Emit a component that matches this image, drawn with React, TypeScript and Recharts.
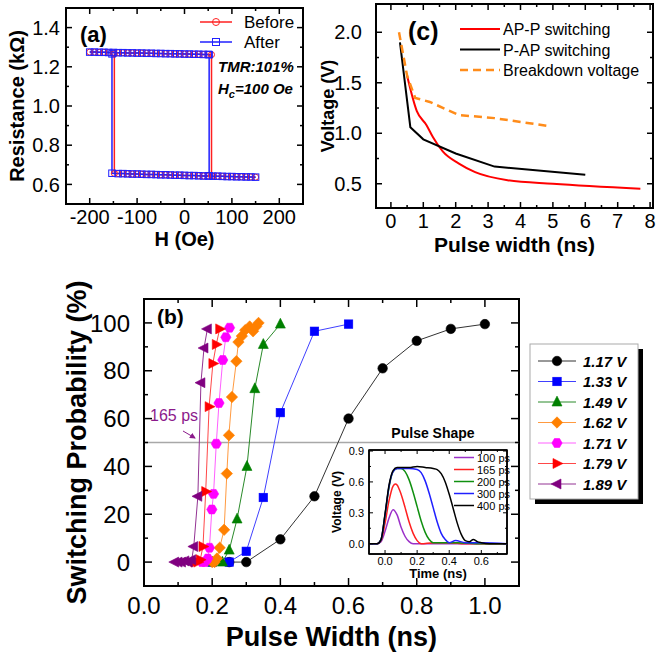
import React from "react";
import { LineChart, Line, XAxis, YAxis, ReferenceLine, ReferenceArea } from "recharts";

const FONT = "'Liberation Sans', Arial, Helvetica, sans-serif";

// ---------- (a) R-H loop ----------
const TOP_H = [-200, -190, -180, -170, -160, -150, -140, -130, -120, -110, -100, -90, -80, -70, -60, -50, -40, -30, -20, -10, 0, 10, 20, 30, 40, 50];
const TOP_R = [1.275, 1.275, 1.274, 1.274, 1.273, 1.273, 1.272, 1.272, 1.271, 1.271, 1.27, 1.27, 1.269, 1.269, 1.268, 1.268, 1.267, 1.267, 1.266, 1.266, 1.265, 1.265, 1.264, 1.264, 1.263, 1.263];
const LOW_LEFT_H = [-140, -130, -120, -110, -100, -90, -80, -70, -60, -50, -40, -30, -20, -10, 0, 10, 20, 30, 40, 50];
const LOW_LEFT_R = [0.655, 0.655, 0.654, 0.653, 0.653, 0.652, 0.651, 0.651, 0.65, 0.649, 0.649, 0.648, 0.647, 0.647, 0.646, 0.645, 0.645, 0.644, 0.643, 0.643];
const LOW_RIGHT_H = [60, 70, 80, 90, 100, 110, 120, 130, 140, 150];
const LOW_RIGHT_R = [0.642, 0.642, 0.641, 0.64, 0.64, 0.639, 0.639, 0.638, 0.638, 0.637];
// switching field, R high, R low
const BEFORE_UP = [57, 1.262, 0.643];
const BEFORE_DOWN = [-148, 1.266, 0.656];
const AFTER_UP = [52, 1.262, 0.644];
const AFTER_DOWN = [-153, 1.266, 0.657];
const A_NAMES = ["Before", "After"];
const A_COLORS = ["#ff2020", "#2020ff"];
const A_SHAPES = ["circle", "square"];
const A_X_TICKS = [-200, -150, -100, -50, 0, 50, 100, 150, 200];
const A_X_MAJORS = [-200, -100, 0, 100, 200];
const A_Y_TICKS = [0.6, 0.7, 0.8, 0.9, 1.0, 1.1, 1.2, 1.3, 1.4];
const A_Y_MAJORS = [0.6, 0.8, 1.0, 1.2, 1.4];

// ---------- (c) switching voltage vs pulse width ----------
const C_NAMES = ["AP-P switching", "P-AP switching", "Breakdown voltage"];
const C_COLORS = ["#ff0000", "#000000", "#ff8c1a"];
const AP_W = [0.5, 0.8, 1.1, 1.3, 1.6, 2.1, 2.6, 3.6, 5.0, 7.7];
const AP_V = [1.57, 1.22, 1.08, 0.96, 0.82, 0.7, 0.615, 0.535, 0.5, 0.45];
const PAP_W = [0.28, 0.6, 1.0, 2.0, 3.2, 6.0];
const PAP_V = [1.9, 1.06, 0.94, 0.8, 0.67, 0.59];
const BD_W = [0.25, 0.5, 0.75, 1.2, 2.1, 3.2, 4.9];
const BD_V = [2.0, 1.57, 1.35, 1.31, 1.18, 1.15, 1.07];
const C_X_TICKS = [0, 0.5, 1, 1.5, 2, 2.5, 3, 3.5, 4, 4.5, 5, 5.5, 6, 6.5, 7, 7.5, 8];
const C_X_MAJORS = [0, 1, 2, 3, 4, 5, 6, 7, 8];
const C_Y_TICKS = [0.5, 0.75, 1.0, 1.25, 1.5, 1.75, 2.0];
const C_Y_MAJORS = [0.5, 1.0, 1.5, 2.0];

// ---------- (b) switching probability ----------
const B_NAMES = ["1.17 V", "1.33 V", "1.49 V", "1.62 V", "1.71 V", "1.79 V", "1.89 V"];
const B_COLORS = ["#000000", "#0000ff", "#008000", "#ff8000", "#ff00ff", "#ff0000", "#800080"];
const B_LINES = ["#333333", "#4040ff", "#2a8a2a", "#ff9a40", "#ff60ff", "#ff4848", "#933393"];
const B_SHAPES = ["circle", "square", "up", "diamond", "hex", "right", "left"];
const W_117 = [0.25, 0.3, 0.4, 0.5, 0.6, 0.7, 0.8, 0.9, 1.0];
const P_117 = [0, 0, 9.5, 27.5, 60, 81, 92.5, 97.5, 99.5];
const W_133 = [0.2, 0.25, 0.3, 0.35, 0.4, 0.5, 0.6];
const P_133 = [0, 0, 4.5, 27, 62.5, 96.5, 99.5];
const W_149 = [0.2, 0.23, 0.25, 0.273, 0.302, 0.325, 0.35, 0.4];
const P_149 = [0, 0, 5, 18, 40, 72.5, 91, 99.5];
const W_162 = [0.2, 0.207, 0.214, 0.222, 0.235, 0.243, 0.249, 0.258, 0.271, 0.277, 0.287, 0.297, 0.31, 0.32, 0.329, 0.336];
const P_162 = [0, 0, 1.5, 6, 13.5, 37, 53, 69, 84, 92, 94.5, 97, 98.5, 96.5, 98.5, 100];
const W_171 = [0.17, 0.179, 0.187, 0.192, 0.199, 0.204, 0.212, 0.22, 0.231, 0.24, 0.251];
const P_171 = [0, 0, 1.5, 6, 22, 28.5, 49.5, 66.5, 84.5, 94, 98];
const W_179 = [0.15, 0.158, 0.165, 0.173, 0.181, 0.191, 0.202, 0.212, 0.222];
const P_179 = [0, 0, 1, 6.5, 29.5, 65, 83, 91, 97.5];
const W_189 = [0.09, 0.1, 0.11, 0.12, 0.13, 0.14, 0.146, 0.158, 0.167, 0.176, 0.186];
const P_189 = [0, 0, 0, 0.5, 0, 1, 6.5, 27.5, 75, 89.5, 97.5];
const B_W = [W_117, W_133, W_149, W_162, W_171, W_179, W_189];
const B_P = [P_117, P_133, P_149, P_162, P_171, P_179, P_189];
const B_X_TICKS = [0, 0.1, 0.2, 0.3, 0.4, 0.5, 0.6, 0.7, 0.8, 0.9, 1.0];
const B_X_MAJORS = [0, 0.2, 0.4, 0.6, 0.8, 1.0];
const B_Y_TICKS = [0, 10, 20, 30, 40, 50, 60, 70, 80, 90, 100];
const B_Y_MAJORS = [0, 20, 40, 60, 80, 100];

// ---------- inset: pulse shape ----------
const PULSE_NAMES = ["100 ps", "165 ps", "200 ps", "300 ps", "400 ps"];
const PULSE_COLORS = ["#9b30c8", "#ff2020", "#109010", "#2020ff", "#000000"];
const T_100 = [-0.1, -0.05, -0.025, 0, 0.025, 0.05, 0.075, 0.1, 0.125, 0.15, 0.175, 0.25, 0.4, 0.55, 0.76];
const V_100 = [0, 0, 0.02, 0.12, 0.25, 0.33, 0.28, 0.16, 0.07, 0.02, 0, 0, 0, 0, 0];
const T_165 = [-0.1, -0.05, -0.025, 0, 0.025, 0.05, 0.065, 0.075, 0.1, 0.125, 0.15, 0.175, 0.2, 0.225, 0.3, 0.4, 0.5, 0.76];
const V_165 = [0, 0, 0.03, 0.2, 0.42, 0.56, 0.58, 0.57, 0.48, 0.35, 0.21, 0.1, 0.03, 0, 0.01, 0.01, 0, 0];
const T_200 = [-0.1, -0.05, -0.025, 0, 0.025, 0.05, 0.075, 0.1, 0.125, 0.15, 0.175, 0.2, 0.225, 0.25, 0.275, 0.3, 0.35, 0.45, 0.6, 0.76];
const V_200 = [0, 0, 0.04, 0.28, 0.55, 0.7, 0.73, 0.73, 0.7, 0.62, 0.5, 0.36, 0.22, 0.11, 0.04, 0.01, 0.01, 0.01, 0, 0];
const T_300 = [-0.1, -0.05, -0.025, 0, 0.025, 0.05, 0.075, 0.1, 0.15, 0.2, 0.225, 0.25, 0.275, 0.3, 0.325, 0.35, 0.375, 0.4, 0.44, 0.5, 0.6, 0.76];
const V_300 = [0, 0, 0.04, 0.28, 0.56, 0.7, 0.73, 0.73, 0.73, 0.72, 0.69, 0.61, 0.49, 0.35, 0.21, 0.1, 0.04, 0.01, 0.03, 0.01, 0.01, 0];
const T_400 = [-0.1, -0.05, -0.025, 0, 0.025, 0.05, 0.075, 0.1, 0.15, 0.2, 0.25, 0.3, 0.325, 0.35, 0.375, 0.4, 0.425, 0.45, 0.475, 0.5, 0.525, 0.55, 0.575, 0.6, 0.65, 0.76];
const V_400 = [0, 0, 0.04, 0.29, 0.57, 0.71, 0.74, 0.74, 0.74, 0.75, 0.74, 0.73, 0.72, 0.68, 0.6, 0.48, 0.34, 0.2, 0.09, 0.03, 0.02, 0.04, 0.02, 0.01, 0, 0];
const PULSE_T = [T_100, T_165, T_200, T_300, T_400];
const PULSE_V = [V_100, V_165, V_200, V_300, V_400];
const I_X_TICKS = [0, 0.1, 0.2, 0.3, 0.4, 0.5, 0.6, 0.7];
const I_X_MAJORS = [0, 0.2, 0.4, 0.6];
const I_Y_TICKS = [0, 0.15, 0.3, 0.45, 0.6, 0.75, 0.9];
const I_Y_MAJORS = [0, 0.3, 0.6, 0.9];

// ---------- helpers ----------
const zip = (xs: number[], ys: number[], xk: string, yk: string) =>
  xs.map((x, i) => ({ [xk]: x, [yk]: ys[i] }));

const loop = (up: number[], down: number[]) => [
  ...zip(TOP_H, TOP_R, "h", "r"),
  { h: up[0], r: up[1] },
  { h: up[0], r: up[2] },
  ...zip(LOW_RIGHT_H, LOW_RIGHT_R, "h", "r"),
  { h: 0, r: null },
  { h: down[0], r: down[1] },
  { h: down[0], r: down[2] },
  ...zip(LOW_LEFT_H, LOW_LEFT_R, "h", "r"),
];

function Marker({ shape, cx, cy, s, color, hollow }: any) {
  const st = { fill: hollow ? "none" : color, stroke: color, strokeWidth: hollow ? 1 : 0.6 };
  const h = s / 2;
  switch (shape) {
    case "circle":
      return <circle cx={cx} cy={cy} r={h} {...st} />;
    case "square":
      return <rect x={cx - h} y={cy - h} width={s} height={s} {...st} />;
    case "up":
      return <polygon points={`${cx},${cy - s * 0.62} ${cx + h * 1.05},${cy + s * 0.42} ${cx - h * 1.05},${cy + s * 0.42}`} {...st} />;
    case "diamond":
      return <polygon points={`${cx},${cy - h * 1.2} ${cx + h * 1.2},${cy} ${cx},${cy + h * 1.2} ${cx - h * 1.2},${cy}`} {...st} />;
    case "hex": {
      const pts = [0, 60, 120, 180, 240, 300]
        .map((a) => `${cx + h * 1.08 * Math.cos((a * Math.PI) / 180)},${cy + h * 1.08 * Math.sin((a * Math.PI) / 180)}`)
        .join(" ");
      return <polygon points={pts} {...st} />;
    }
    case "right":
      return <polygon points={`${cx + s * 0.62},${cy} ${cx - s * 0.42},${cy - h * 1.05} ${cx - s * 0.42},${cy + h * 1.05}`} {...st} />;
    case "left":
      return <polygon points={`${cx - s * 0.62},${cy} ${cx + s * 0.42},${cy - h * 1.05} ${cx + s * 0.42},${cy + h * 1.05}`} {...st} />;
    default:
      return null;
  }
}

const dotFn = (id: string, shape: string, color: string, s: number, hollow = false) => (d: any) => {
  if (!Number.isFinite(d.cx) || !Number.isFinite(d.cy) || d.value == null) return <g key={`${id}-${d.index}`} />;
  return <Marker key={`${id}-${d.index}`} shape={shape} cx={d.cx} cy={d.cy} s={s} color={color} hollow={hollow} />;
};

type Frame = {
  xKey: string;
  xDomain: number[];
  yDomain: number[];
  xTicks: number[];
  yTicks: number[];
  xMajors: number[];
  yMajors: number[];
  xFmt: (v: number) => string;
  yFmt: (v: number) => string;
  font: number;
  xGap: number;
  yGap: number;
  major: number;
  minor: number;
  sw: number;
  yWidth: number;
  plotW: number;
  plotH: number;
  xLabel: any;
  yLabel: any;
};

// inward ticks on both opposite sides of the frame, label only on majors
const tickFor = (side: "x" | "y", f: Frame) => (p: any) => {
  const majors = side === "x" ? f.xMajors : f.yMajors;
  const v = Number(p.payload?.value);
  const big = majors.some((m) => Math.abs(m - v) < 1e-9);
  const len = big ? f.major : f.minor;
  const x = Number(p.x);
  const y = Number(p.y);
  const w = Math.max(1, f.sw - 0.5);
  if (side === "x") {
    const top = y - f.plotH;
    return (
      <g key={`x-${p.index}`}>
        <line x1={x} x2={x} y1={y} y2={y - len} stroke="#000" strokeWidth={w} />
        <line x1={x} x2={x} y1={top} y2={top + len} stroke="#000" strokeWidth={w} />
        {big && (
          <text x={x} y={y + f.xGap} dy="0.72em" textAnchor="middle" fontSize={f.font} fill="#000">
            {f.xFmt(v)}
          </text>
        )}
      </g>
    );
  }
  const right = x + f.plotW;
  return (
    <g key={`y-${p.index}`}>
      <line x1={x} x2={x + len} y1={y} y2={y} stroke="#000" strokeWidth={w} />
      <line x1={right} x2={right - len} y1={y} y2={y} stroke="#000" strokeWidth={w} />
      {big && (
        <text x={x - f.yGap} y={y} dy="0.36em" textAnchor="end" fontSize={f.font} fill="#000">
          {f.yFmt(v)}
        </text>
      )}
    </g>
  );
};

const axisBase = (f: Frame) => ({
  type: "number" as const,
  allowDataOverflow: true,
  interval: 0,
  tickSize: 0,
  tickMargin: 0,
  tickLine: false,
  axisLine: { stroke: "#000", strokeWidth: f.sw },
});
const xProps = (f: Frame): any => ({
  ...axisBase(f), dataKey: f.xKey, domain: f.xDomain, ticks: f.xTicks, height: 1,
  tick: tickFor("x", f), label: f.xLabel,
});
const yProps = (f: Frame): any => ({
  ...axisBase(f), domain: f.yDomain, ticks: f.yTicks, width: f.yWidth,
  tick: tickFor("y", f), label: f.yLabel,
});
const boxProps = (f: Frame): any => ({
  x1: f.xDomain[0], x2: f.xDomain[1], y1: f.yDomain[0], y2: f.yDomain[1],
  fill: "none", stroke: "#000", strokeWidth: f.sw, ifOverflow: "visible",
});

const xTitle = (value: string, offset: number, fontSize: number) => ({
  value, position: "bottom", offset, fontSize, fontWeight: "bold", fill: "#000",
});
const yTitle = (value: string, offset: number, fontSize: number) => ({
  value, angle: -90, position: "insideLeft", offset, fontSize, fontWeight: "bold", fill: "#000",
  style: { textAnchor: "middle" },
});

const fix1 = (v: number) => v.toFixed(1);
const int = (v: number) => `${Math.round(v)}`;

// ---------- panels ----------
const FRAME_A: Frame = {
  xKey: "h", xDomain: [-250, 250], yDomain: [0.5, 1.5],
  xTicks: A_X_TICKS, yTicks: A_Y_TICKS, xMajors: A_X_MAJORS, yMajors: A_Y_MAJORS,
  xFmt: int, yFmt: fix1, font: 20, xGap: 6, yGap: 6, major: 6, minor: 3, sw: 2, yWidth: 66,
  plotW: 237, plotH: 196,
  xLabel: xTitle("H (Oe)", 27, 20), yLabel: yTitle("Resistance (kΩ)", 17, 20),
};

function PanelA() {
  const series = [loop(BEFORE_UP, BEFORE_DOWN), loop(AFTER_UP, AFTER_DOWN)];
  return (
    <LineChart width={320} height={260} margin={{ top: 8, right: 17, bottom: 55, left: 0 }}>
      <ReferenceArea {...boxProps(FRAME_A)} />
      <XAxis {...xProps(FRAME_A)} />
      <YAxis {...yProps(FRAME_A)} />
      <ReferenceLine y={1.5} stroke="#000" strokeWidth={2} ifOverflow="visible" />
      <ReferenceLine x={250} stroke="#000" strokeWidth={2} ifOverflow="visible" />
      {series.map((d, i) => (
        <Line key={A_NAMES[i]} data={d} dataKey="r" type="linear" stroke={A_COLORS[i]} strokeWidth={1.5}
          isAnimationActive={false} activeDot={false}
          dot={dotFn(A_NAMES[i], A_SHAPES[i], A_COLORS[i], i === 0 ? 6 : 6.5, true)} />
      ))}
    </LineChart>
  );
}

const FRAME_C: Frame = {
  xKey: "w", xDomain: [-0.46, 8.09], yDomain: [0.26, 2.28],
  xTicks: C_X_TICKS, yTicks: C_Y_TICKS, xMajors: C_X_MAJORS, yMajors: C_Y_MAJORS,
  xFmt: int, yFmt: fix1, font: 20, xGap: 6, yGap: 14, major: 6, minor: 3, sw: 2, yWidth: 66,
  plotW: 277, plotH: 204,
  xLabel: xTitle("Pulse width (ns)", 28, 21), yLabel: yTitle("Voltage (V)", 18, 18),
};

function PanelC() {
  const series = [zip(AP_W, AP_V, "w", "v"), zip(PAP_W, PAP_V, "w", "v"), zip(BD_W, BD_V, "w", "v")];
  return (
    <LineChart width={347} height={262} margin={{ top: 4, right: 4, bottom: 53, left: 0 }}>
      <ReferenceArea {...boxProps(FRAME_C)} />
      <XAxis {...xProps(FRAME_C)} />
      <YAxis {...yProps(FRAME_C)} />
      <ReferenceLine y={2.28} stroke="#000" strokeWidth={2} ifOverflow="visible" />
      <ReferenceLine x={8.09} stroke="#000" strokeWidth={2} ifOverflow="visible" />
      {series.map((d, i) => (
        <Line key={C_NAMES[i]} data={d} dataKey="v" type={i === 0 ? "monotone" : "linear"}
          stroke={C_COLORS[i]} strokeWidth={i === 2 ? 2.5 : 2} strokeDasharray={i === 2 ? "8 5" : undefined}
          dot={false} activeDot={false} isAnimationActive={false} />
      ))}
    </LineChart>
  );
}

const FRAME_B: Frame = {
  xKey: "w", xDomain: [0, 1.1], yDomain: [-10, 110],
  xTicks: B_X_TICKS, yTicks: B_Y_TICKS, xMajors: B_X_MAJORS, yMajors: B_Y_MAJORS,
  xFmt: fix1, yFmt: int, font: 24, xGap: 11, yGap: 14, major: 8, minor: 4, sw: 2, yWidth: 144,
  plotW: 375, plotH: 287,
  xLabel: xTitle("Pulse Width (ns)", 40, 27), yLabel: yTitle("Switching Probability (%)", 76, 27),
};

function PanelB() {
  const series = B_NAMES.map((_, i) => zip(B_W[i], B_P[i], "w", "p"));
  return (
    <LineChart width={530} height={378} margin={{ top: 19, right: 11, bottom: 71, left: 0 }}>
      <ReferenceArea {...boxProps(FRAME_B)} />
      <XAxis {...xProps(FRAME_B)} />
      <YAxis {...yProps(FRAME_B)} />
      <ReferenceLine y={110} stroke="#000" strokeWidth={2} ifOverflow="visible" />
      <ReferenceLine x={1.1} stroke="#000" strokeWidth={2} ifOverflow="visible" />
      <ReferenceLine y={50} stroke="#a8a8a8" strokeWidth={1.5} />
      {B_NAMES.map((n, i) => (
        <Line key={n} data={series[i]} dataKey="p" type="linear" stroke={B_LINES[i]}
          strokeWidth={1} isAnimationActive={false} activeDot={false}
          dot={dotFn(n, B_SHAPES[i], B_COLORS[i], i === 1 ? 8.5 : 9.5)} />
      ))}
    </LineChart>
  );
}

const FRAME_I: Frame = {
  xKey: "t", xDomain: [-0.1, 0.76], yDomain: [-0.1, 0.91],
  xTicks: I_X_TICKS, yTicks: I_Y_TICKS, xMajors: I_X_MAJORS, yMajors: I_Y_MAJORS,
  xFmt: fix1, yFmt: fix1, font: 11, xGap: 3, yGap: 5, major: 4, minor: 2, sw: 1.5, yWidth: 69,
  plotW: 138, plotH: 104,
  xLabel: xTitle("Time (ns)", 14, 13), yLabel: yTitle("Voltage (V)", 37, 12),
};

function Inset() {
  const series = PULSE_NAMES.map((_, i) => zip(PULSE_T[i], PULSE_V[i], "t", "v"));
  return (
    <LineChart width={215} height={150} margin={{ top: 10, right: 8, bottom: 35, left: 0 }}>
      <ReferenceArea {...boxProps(FRAME_I)} />
      <XAxis {...xProps(FRAME_I)} />
      <YAxis {...yProps(FRAME_I)} />
      <ReferenceLine y={0.91} stroke="#000" strokeWidth={1.5} ifOverflow="visible" />
      <ReferenceLine x={0.76} stroke="#000" strokeWidth={1.5} ifOverflow="visible" />
      {PULSE_NAMES.map((n, i) => (
        <Line key={n} data={series[i]} dataKey="v" type="monotone"
          stroke={PULSE_COLORS[i]} strokeWidth={1.5} dot={false} activeDot={false} isAnimationActive={false} />
      ))}
    </LineChart>
  );
}

function Overlay() {
  const purple = "#8b1a8b";
  return (
    <svg width={657} height={658} style={{ position: "absolute", left: 0, top: 0, pointerEvents: "none" }}>
      <defs>
        <marker id="arr" markerWidth="6" markerHeight="6" refX="5" refY="3" orient="auto">
          <path d="M0,0 L6,3 L0,6 z" fill={purple} />
        </marker>
      </defs>
      {/* (a) */}
      <text x={80} y={42} fontSize={22} fontWeight="bold">(a)</text>
      {A_NAMES.map((n, i) => (
        <g key={n}>
          <line x1={200} x2={232} y1={22 + i * 20} y2={22 + i * 20} stroke={A_COLORS[i]} strokeWidth={1.5} />
          <Marker shape={A_SHAPES[i]} cx={216} cy={22 + i * 20} s={7} color={A_COLORS[i]} hollow />
          <text x={244} y={28 + i * 20} fontSize={17}>{n}</text>
        </g>
      ))}
      <text x={218} y={72} fontSize={15} fontWeight="bold" fontStyle="italic">TMR:101%</text>
      <text x={218} y={94} fontSize={15} fontWeight="bold" fontStyle="italic">
        H<tspan fontSize={11} dy={4}>c</tspan><tspan dy={-4}>=100 Oe</tspan>
      </text>
      {/* (c) */}
      <text x={408} y={40} fontSize={25} fontWeight="bold">(c)</text>
      {C_NAMES.map((n, i) => (
        <g key={n}>
          <line x1={460} x2={500} y1={29 + i * 20.5} y2={29 + i * 20.5} stroke={C_COLORS[i]}
            strokeWidth={i === 2 ? 2.5 : 2} strokeDasharray={i === 2 ? "8 5" : undefined} />
          <text x={503} y={35 + i * 20.5} fontSize={16}>{n}</text>
        </g>
      ))}
      {/* (b) */}
      <text x={157} y={324} fontSize={21} fontWeight="bold">(b)</text>
      <text x={150} y={421} fontSize={16} fill={purple}>165 ps</text>
      <line x1={183} y1={431} x2={195} y2={438} stroke={purple} strokeWidth={1} markerEnd="url(#arr)" />
      <rect x={535} y={349} width={108} height={155} fill="#000" />
      <rect x={530} y={344} width={108} height={155} fill="#fff" stroke="#aaa" strokeWidth={1} />
      {B_NAMES.map((n, i) => (
        <g key={n}>
          <line x1={538} x2={576} y1={361 + i * 20.5} y2={361 + i * 20.5} stroke={B_LINES[i]} strokeWidth={1} />
          <Marker shape={B_SHAPES[i]} cx={557} cy={361 + i * 20.5} s={i === 1 ? 8.5 : 9.5} color={B_COLORS[i]} />
          <text x={583} y={366.5 + i * 20.5} fontSize={15} fontWeight="bold" fontStyle="italic">{n}</text>
        </g>
      ))}
      {/* inset */}
      <text x={433} y={438} fontSize={14} fontWeight="bold" textAnchor="middle">Pulse Shape</text>
      {PULSE_NAMES.map((n, i) => (
        <g key={n}>
          <line x1={454} x2={474} y1={457.5 + i * 12} y2={457.5 + i * 12} stroke={PULSE_COLORS[i]} strokeWidth={1.5} />
          <text x={477} y={461.5 + i * 12} fontSize={11}>{n}</text>
        </g>
      ))}
    </svg>
  );
}

export default function App() {
  return (
    <div style={{ position: "absolute", left: 0, top: 0, width: 657, height: 658, background: "#fff", fontFamily: FONT, overflow: "hidden" }}>
      <div style={{ position: "absolute", left: 0, top: 0 }}><PanelA /></div>
      <div style={{ position: "absolute", left: 310, top: 0 }}><PanelC /></div>
      <div style={{ position: "absolute", left: 0, top: 280 }}><PanelB /></div>
      <div style={{ position: "absolute", left: 300, top: 440 }}><Inset /></div>
      <Overlay />
    </div>
  );
}
